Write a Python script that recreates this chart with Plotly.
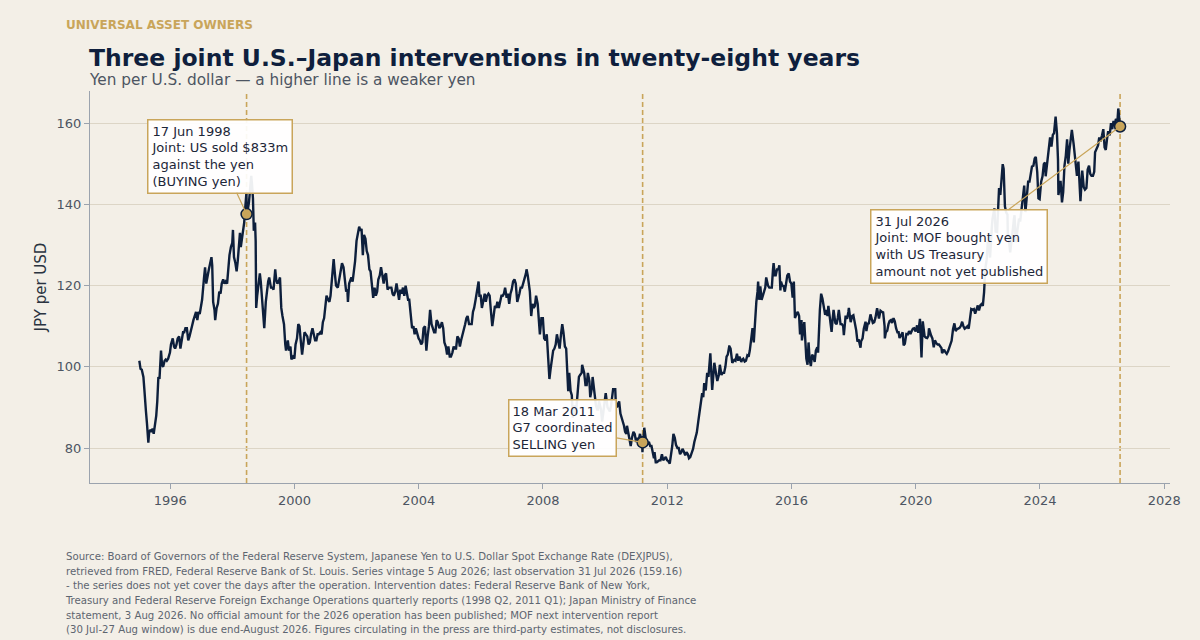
import plotly.graph_objects as go

# ---------------- data ----------------
y1995 = [("01-03",101.5),("01-17",99.5),("02-01",99.3),("02-20",97.5),("03-03",94.5),("03-10",91.0),("03-22",89.0),("04-03",86.0),("04-19",81.3),("04-28",83.8),("05-10",84.5),("05-26",84.0),("06-08",84.8),("06-21",83.5),("07-06",86.0),("07-21",88.0),("08-02",91.5),("08-15",97.5),("08-28",97.0),("09-08",101.0),("09-15",104.0),("09-27",100.5),("10-10",100.0),("10-27",101.5),("11-09",101.8),("11-22",101.5),("12-08",102.0),("12-29",103.5)]
y1996 = [("01-10",105.5),("01-31",107.0),("02-15",105.0),("02-28",104.5),("03-15",105.5),("03-29",107.0),("04-15",107.5),("04-30",104.5),("05-15",106.5),("05-31",108.5),("06-14",108.5),("06-28",109.5),("07-15",109.5),("07-31",106.5),("08-15",107.5),("08-30",108.5),("09-13",110.0),("09-30",111.5),("10-15",112.5),("10-31",113.5),("11-15",111.5),("11-29",113.5),("12-13",113.0),("12-31",115.5)]
y1997 = [("01-10",116.5),("01-31",121.5),("02-14",124.5),("02-28",120.5),("03-14",122.5),("03-31",124.0),("04-15",125.5),("04-30",127.0),("05-09",125.0),("05-20",116.0),("06-05",114.0),("06-13",111.5),("06-30",114.5),("07-15",115.5),("07-31",118.5),("08-15",118.0),("08-29",120.5),("09-15",121.5),("09-30",120.5),("10-15",121.0),("10-31",120.5),("11-14",125.5),("11-28",127.5),("12-15",129.5),("12-31",130.5)]
y1998 = [("01-08",133.7),("01-20",127.0),("02-06",125.5),("02-20",123.5),("03-05",126.0),("03-20",129.0),("03-31",133.0),("04-10",129.5),("04-24",131.5),("05-08",133.0),("05-20",135.5),("06-01",139.0),("06-12",141.0),("06-16",143.0),("06-17",137.6),("06-30",138.5),("07-15",140.5),("07-31",143.5),("08-11",147.0),("08-20",145.0),("08-31",141.5),("09-10",133.5),("09-25",135.5),("10-02",131.0),("10-08",114.5),("10-20",117.5),("11-05",120.5),("11-20",123.0),("12-01",121.0),("12-15",116.5),("12-31",113.5)]
y1999 = [("01-11",109.5),("01-29",116.0),("02-15",119.5),("02-26",121.0),("03-10",122.0),("03-31",119.5),("04-15",119.5),("04-30",119.0),("05-20",124.0),("05-31",121.5),("06-15",120.5),("06-30",121.0),("07-15",122.0),("07-30",114.5),("08-13",112.5),("08-31",110.5),("09-15",105.5),("09-24",104.0),("10-15",106.5),("10-29",104.0),("11-15",105.0),("11-26",101.8),("12-15",102.5),("12-31",102.0)]
y2000 = [("01-14",105.5),("01-31",107.0),("02-15",110.5),("02-29",110.0),("03-15",106.5),("03-31",103.0),("04-14",105.5),("04-28",108.5),("05-15",108.0),("05-31",107.5),("06-15",105.5),("06-30",106.0),("07-14",108.0),("07-31",109.5),("08-15",108.0),("08-31",106.5),("09-15",106.5),("09-29",108.0),("10-13",108.0),("10-31",108.5),("11-15",108.0),("11-30",111.0),("12-15",112.0),("12-29",114.5)]
y2001 = [("01-12",117.5),("01-31",116.5),("02-15",116.0),("02-28",117.5),("03-15",122.0),("03-30",126.0),("04-06",126.5),("04-20",123.0),("05-04",120.0),("05-25",119.5),("06-08",121.5),("06-29",124.5),("07-13",125.5),("07-31",124.5),("08-15",120.5),("08-31",118.5),("09-14",119.0),("09-21",116.0),("10-05",120.5),("10-31",122.0),("11-15",121.0),("11-30",123.5),("12-14",126.0),("12-31",131.0)]
y2002 = [("01-15",132.5),("01-31",134.5),("02-15",133.5),("02-28",134.0),("03-15",127.5),("03-29",132.5),("04-15",131.5),("04-30",128.5),("05-15",127.5),("05-31",124.0),("06-14",123.5),("06-28",119.5),("07-15",117.0),("07-31",119.5),("08-15",117.5),("08-30",118.5),("09-13",121.5),("09-30",122.5),("10-15",124.5),("10-31",122.5),("11-15",120.5),("11-29",122.5),("12-13",123.0),("12-31",119.0)]
y2003 = [("01-15",119.5),("01-31",119.5),("02-14",119.5),("02-28",118.0),("03-14",117.5),("03-31",118.5),("04-15",120.5),("04-30",118.5),("05-15",116.5),("05-30",119.0),("06-13",118.0),("06-30",119.5),("07-15",117.5),("07-31",120.0),("08-15",118.5),("08-29",116.5),("09-12",116.5),("09-30",111.5),("10-15",109.5),("10-31",110.0),("11-14",108.0),("11-28",109.5),("12-15",108.0),("12-31",107.0)]
y2004 = [("01-15",106.5),("01-30",105.5),("02-13",106.0),("02-27",109.5),("03-15",110.0),("03-31",104.0),("04-15",107.5),("04-30",110.0),("05-14",114.0),("05-31",110.5),("06-15",109.5),("06-30",108.5),("07-15",108.5),("07-30",111.5),("08-13",111.0),("08-31",109.5),("09-15",110.0),("09-30",111.0),("10-15",109.5),("10-29",106.0),("11-15",105.0),("11-30",103.0),("12-15",105.0),("12-31",102.5)]
y2005 = [("01-14",102.5),("01-31",103.5),("02-15",105.0),("02-28",104.5),("03-15",104.5),("03-31",107.5),("04-15",107.0),("04-29",105.0),("05-13",106.5),("05-31",108.0),("06-15",108.5),("06-30",110.5),("07-15",112.0),("07-29",112.5),("08-15",110.5),("08-31",110.5),("09-15",110.5),("09-30",113.5),("10-14",114.5),("10-31",116.5),("11-15",118.5),("11-30",119.5),("12-05",121.0),("12-15",117.5),("12-30",117.5)]
y2006 = [("01-13",114.5),("01-31",117.0),("02-15",118.0),("02-28",116.0),("03-15",117.5),("03-31",118.0),("04-14",117.5),("04-28",114.0),("05-15",110.0),("05-31",112.5),("06-15",115.0),("06-30",114.5),("07-14",116.0),("07-31",114.5),("08-15",116.0),("08-31",117.5),("09-15",117.5),("09-29",118.0),("10-13",119.5),("10-31",117.0),("11-15",118.0),("11-30",115.5),("12-15",118.0),("12-29",119.0)]
y2007 = [("01-15",121.0),("01-31",121.5),("02-15",120.5),("02-27",117.5),("03-05",116.0),("03-30",118.0),("04-13",119.5),("04-30",119.5),("05-15",120.5),("05-31",121.5),("06-15",123.0),("06-22",124.0),("07-06",122.5),("07-31",118.5),("08-16",112.5),("08-31",115.5),("09-14",114.5),("09-28",115.0),("10-12",117.5),("10-31",115.5),("11-15",111.0),("11-26",108.0),("12-14",112.0),("12-31",112.0)]
y2008 = [("01-15",107.0),("01-31",106.5),("02-15",108.0),("02-29",104.0),("03-17",97.0),("03-31",99.5),("04-15",101.5),("04-30",104.0),("05-15",104.5),("05-30",105.5),("06-13",108.0),("06-30",105.5),("07-15",104.5),("07-31",108.0),("08-15",110.5),("08-29",108.5),("09-15",105.0),("09-30",104.5),("10-10",99.5),("10-24",94.0),("11-05",98.5),("11-21",94.0),("12-05",93.0),("12-17",87.5),("12-31",90.5)]
y2009 = [("01-15",89.5),("01-21",88.0),("02-06",91.5),("02-27",97.5),("03-13",98.0),("03-31",98.5),("04-06",100.5),("04-30",98.5),("05-15",95.5),("05-29",95.5),("06-12",98.5),("06-30",96.5),("07-10",92.5),("07-31",95.0),("08-07",97.5),("08-31",93.0),("09-15",90.5),("09-30",89.5),("10-09",89.5),("10-21",91.5),("11-13",89.5),("11-27",86.5),("12-15",89.5),("12-31",93.0)]
y2010 = [("01-08",93.5),("01-29",90.0),("02-12",89.5),("02-26",89.0),("03-12",90.5),("03-31",93.5),("04-05",94.5),("04-30",94.5),("05-06",91.5),("05-20",90.0),("06-15",91.5),("06-30",88.5),("07-15",87.5),("07-30",86.5),("08-11",85.5),("08-24",84.0),("09-08",83.5),("09-15",85.5),("09-30",83.5),("10-14",81.5),("10-29",80.5),("11-12",82.5),("11-30",84.0),("12-15",83.5),("12-31",81.5)]
y2011 = [("01-14",82.5),("01-31",82.0),("02-15",83.5),("02-28",82.0),("03-10",83.0),("03-16",79.0),("03-18",81.4),("03-31",83.0),("04-06",85.0),("04-29",81.5),("05-13",81.0),("05-31",81.5),("06-15",80.5),("06-30",80.5),("07-15",79.0),("07-29",77.5),("08-05",79.0),("08-19",76.5),("08-31",76.5),("09-15",76.8),("09-30",77.0),("10-14",77.0),("10-31",78.5),("11-15",77.0),("11-30",77.5),("12-15",77.8),("12-30",77.0)]
y2012 = [("01-13",76.8),("01-31",76.2),("02-15",78.0),("02-29",80.5),("03-14",83.5),("03-30",82.5),("04-13",80.8),("04-30",80.0),("05-15",80.0),("05-31",78.5),("06-15",79.0),("06-29",79.8),("07-13",79.2),("07-31",78.2),("08-15",79.0),("08-31",78.5),("09-13",77.5),("09-28",77.8),("10-15",78.8),("10-31",79.8),("11-15",81.5),("11-30",82.5),("12-14",83.8),("12-31",86.5)]
y2013 = [("01-15",88.5),("01-31",91.5),("02-15",93.5),("02-28",92.5),("03-11",96.0),("03-29",94.2),("04-05",97.5),("04-15",98.5),("04-30",97.5),("05-10",101.5),("05-22",103.3),("06-13",94.3),("06-28",99.0),("07-08",101.0),("07-31",98.0),("08-12",96.5),("08-30",98.0),("09-11",100.5),("09-30",98.0),("10-15",98.5),("10-31",98.5),("11-15",100.0),("11-29",102.5),("12-13",103.0),("12-30",105.0)]
y2014 = [("01-02",105.0),("01-15",104.5),("02-04",101.0),("02-28",101.7),("03-14",101.5),("03-31",103.2),("04-15",101.5),("04-30",102.5),("05-21",101.2),("05-30",101.7),("06-13",102.0),("06-30",101.3),("07-15",101.5),("07-31",102.8),("08-15",102.5),("08-29",104.0),("09-15",107.0),("09-30",109.5),("10-15",106.0),("10-31",112.0),("11-14",116.0),("11-28",118.5),("12-05",121.0),("12-16",116.5),("12-31",119.8)]
y2015 = [("01-15",116.5),("01-30",117.5),("02-13",118.5),("02-27",119.5),("03-10",122.0),("03-31",120.0),("04-15",119.5),("04-30",119.5),("05-15",119.5),("05-29",124.0),("06-05",125.5),("06-19",122.5),("06-30",122.5),("07-15",124.0),("07-31",124.0),("08-12",125.0),("08-24",118.8),("08-31",121.0),("09-15",120.0),("09-30",119.9),("10-15",118.5),("10-30",120.5),("11-13",122.5),("11-30",123.0),("12-15",121.0),("12-31",120.5)]
y2016 = [("01-15",117.0),("01-29",121.0),("02-11",112.0),("02-29",113.0),("03-15",113.5),("03-31",112.5),("04-11",108.0),("04-28",111.5),("05-03",106.5),("05-31",111.0),("06-15",106.0),("06-24",102.0),("07-08",100.5),("07-20",106.0),("08-01",102.0),("08-16",100.2),("08-31",103.0),("09-15",102.5),("09-30",101.2),("10-14",104.0),("10-31",104.8),("11-09",103.5),("11-30",114.0),("12-15",118.0),("12-30",116.8)]
y2017 = [("01-13",114.5),("01-31",112.8),("02-15",114.0),("02-28",112.5),("03-10",115.0),("03-31",111.5),("04-17",108.6),("04-28",111.5),("05-10",114.0),("05-31",110.8),("06-15",110.5),("06-30",112.2),("07-11",114.0),("07-31",110.5),("08-15",110.5),("08-31",110.0),("09-08",107.8),("09-29",112.6),("10-16",111.8),("10-31",113.5),("11-06",114.5),("11-27",111.0),("12-15",112.5),("12-29",112.7)]
y2018 = [("01-15",110.8),("01-31",109.0),("02-15",106.2),("02-28",106.8),("03-23",104.7),("03-30",106.3),("04-16",107.0),("04-30",109.3),("05-21",111.1),("05-31",108.8),("06-15",110.6),("06-29",110.7),("07-18",112.9),("07-31",111.8),("08-15",110.8),("08-31",111.0),("09-14",112.0),("09-28",113.7),("10-04",114.4),("10-26",111.9),("11-13",113.8),("11-30",113.5),("12-14",113.4),("12-31",110.0)]
y2019 = [("01-03",107.0),("01-15",108.5),("01-31",108.9),("02-15",110.5),("02-28",111.3),("03-15",111.5),("03-29",110.8),("04-15",112.0),("04-30",111.2),("05-15",109.5),("05-31",108.5),("06-14",108.5),("06-25",107.1),("07-15",107.8),("07-31",108.5),("08-12",105.3),("08-26",105.7),("09-13",108.1),("09-30",108.0),("10-15",108.8),("10-31",108.1),("11-15",108.8),("11-29",109.4),("12-13",109.5),("12-31",108.7)]
y2020 = [("01-17",110.2),("01-31",108.4),("02-20",111.8),("02-28",108.4),("03-09",102.3),("03-24",111.2),("04-15",107.5),("04-30",107.2),("05-15",107.1),("05-29",107.6),("06-05",109.5),("06-30",107.7),("07-15",107.0),("07-31",104.8),("08-14",106.5),("08-31",105.8),("09-15",105.5),("09-30",105.5),("10-15",105.1),("10-30",104.6),("11-06",103.4),("11-30",104.2),("12-15",103.6),("12-31",103.2)]
y2021 = [("01-15",103.8),("01-29",104.6),("02-15",105.4),("02-26",106.4),("03-15",109.3),("03-31",110.7),("04-15",108.8),("04-30",109.3),("05-14",109.4),("05-31",109.6),("06-15",110.1),("06-30",111.1),("07-15",110.0),("07-30",109.4),("08-13",109.6),("08-31",110.0),("09-15",109.4),("09-30",111.6),("10-15",114.2),("10-29",114.0),("11-15",114.2),("11-30",113.1),("12-15",114.0),("12-31",115.1)]
y2022 = [("01-14",113.9),("01-31",115.2),("02-15",115.5),("02-28",115.0),("03-15",118.4),("03-28",123.9),("04-15",126.5),("04-28",130.8),("05-09",130.5),("05-24",126.9),("06-15",134.6),("06-22",136.4),("07-14",139.0),("07-29",133.3),("08-15",133.2),("08-31",138.7),("09-07",144.0),("09-22",142.3),("09-30",144.7),("10-20",149.9),("10-31",148.7),("11-15",139.5),("11-30",138.0),("12-15",137.5),("12-20",131.5),("12-30",131.8)]
y2023 = [("01-16",128.2),("01-31",130.3),("02-15",133.6),("02-28",136.2),("03-08",137.3),("03-23",130.7),("04-14",133.8),("04-28",136.2),("05-15",136.1),("05-31",139.5),("06-15",141.4),("06-30",144.6),("07-14",138.1),("07-31",142.5),("08-15",145.6),("08-31",145.6),("09-15",147.6),("09-29",149.3),("10-16",149.5),("10-31",151.3),("11-13",151.7),("11-30",147.9),("12-14",141.5),("12-28",141.3)]
y2024 = [("01-15",145.6),("01-31",146.9),("02-15",149.9),("02-29",150.3),("03-08",146.9),("03-29",151.3),("04-15",154.2),("04-29",156.5),("05-15",154.2),("05-31",157.1),("06-14",157.5),("06-28",160.8),("07-03",161.6),("07-19",157.4),("07-31",151.0),("08-05",142.3),("08-20",145.4),("08-30",145.8),("09-16",140.5),("09-30",143.0),("10-15",149.5),("10-31",152.0),("11-15",156.0),("11-29",150.0),("12-13",153.5),("12-31",157.3)]
y2025 = [("01-10",158.3),("01-31",154.8),("02-14",152.3),("02-28",150.5),("03-11",147.0),("03-28",150.5),("04-11",143.5),("04-21",140.8),("05-12",148.3),("05-30",144.2),("06-13",143.6),("06-30",144.0),("07-15",148.6),("07-31",149.5),("08-14",147.5),("08-29",147.0),("09-15",147.0),("09-30",148.0),("10-10",152.8),("10-31",154.0),("11-14",154.5),("11-28",156.5),("12-12",155.5),("12-31",157.0)]
y2026 = [("01-15",158.5),("01-30",154.0),("02-13",153.4),("02-27",156.0),("03-13",158.0),("03-31",157.0),("04-15",160.0),("04-30",158.5),("05-15",160.5),("05-29",159.5),("06-12",161.0),("06-30",160.5),("07-10",163.6),("07-20",161.5),("07-31",159.16)]

year_blocks = [y1995, y1996, y1997, y1998, y1999, y2000, y2001, y2002, y2003, y2004,
               y2005, y2006, y2007, y2008, y2009, y2010, y2011, y2012, y2013, y2014,
               y2015, y2016, y2017, y2018, y2019, y2020, y2021, y2022, y2023, y2024,
               y2025, y2026]

event_dates = ["1998-06-17", "2011-03-18", "2026-07-31"]
event_labels = [
    "17 Jun 1998<br>Joint: US sold $833m<br>against the yen<br>(BUYING yen)",
    "18 Mar 2011<br>G7 coordinated<br>SELLING yen",
    "31 Jul 2026<br>Joint: MOF bought yen<br>with US Treasury<br>amount not yet published",
]
y_ticks = [80, 100, 120, 140, 160]

footer_lines = [
    "Source: Board of Governors of the Federal Reserve System, Japanese Yen to U.S. Dollar Spot Exchange Rate (DEXJPUS),",
    "retrieved from FRED, Federal Reserve Bank of St. Louis. Series vintage 5 Aug 2026; last observation 31 Jul 2026 (159.16)",
    "- the series does not yet cover the days after the operation. Intervention dates: Federal Reserve Bank of New York,",
    "Treasury and Federal Reserve Foreign Exchange Operations quarterly reports (1998 Q2, 2011 Q1); Japan Ministry of Finance",
    "statement, 3 Aug 2026. No official amount for the 2026 operation has been published; MOF next intervention report",
    "(30 Jul-27 Aug window) is due end-August 2026. Figures circulating in the press are third-party estimates, not disclosures.",
]

# ---------------- build ----------------
dates, jpy = [], []
for i, block in enumerate(year_blocks):
    yr = 1995 + i
    for md, v in block:
        dates.append(f"{yr}-{md}")
        jpy.append(v)
lookup = dict(zip(dates, jpy))
event_vals = [lookup[d] for d in event_dates]

BG = "#f3efe7"
NAVY = "#0d1f3c"
GOLD = "#c9a55a"
GREY = "#4d5562"
FONT = "DejaVu Sans"

fig = go.Figure()
fig.add_trace(go.Scatter(x=dates, y=jpy, mode="lines",
                         line=dict(color=NAVY, width=2.4), hoverinfo="skip",
                         showlegend=False))
fig.add_trace(go.Scatter(x=event_dates, y=event_vals, mode="markers",
                         marker=dict(color=GOLD, size=11, line=dict(color=NAVY, width=1.5)),
                         hoverinfo="skip", showlegend=False))

for d in event_dates:
    fig.add_shape(type="line", xref="x", yref="paper", x0=d, x1=d, y0=0, y1=1,
                  line=dict(color=GOLD, width=1.6, dash="5px,3px"), layer="below")

offsets = [(-27, -58), (-80, -14), (-161, 120)]
for d, v, t, (ax, ay) in zip(event_dates, event_vals, event_labels, offsets):
    fig.add_annotation(x=d, y=v, xref="x", yref="y", text=t, showarrow=True,
                       arrowhead=0, arrowwidth=1.2, arrowcolor=GOLD, ax=ax, ay=ay,
                       align="left", bgcolor="rgba(255,255,255,0.93)",
                       bordercolor=GOLD, borderwidth=1.5, borderpad=3,
                       font=dict(family=FONT, size=13, color="#1c2638"))

# header
fig.add_annotation(xref="paper", yref="paper", x=-0.0242, y=1.168, xanchor="left",
                   yanchor="middle", text="<b>UNIVERSAL ASSET OWNERS</b>", showarrow=False,
                   font=dict(family=FONT, size=12, color=GOLD))
fig.add_annotation(xref="paper", yref="paper", x=-0.0028, y=1.084, xanchor="left",
                   yanchor="middle",
                   text="<b>Three joint U.S.–Japan interventions in twenty-eight years</b>",
                   showarrow=False, font=dict(family=FONT, size=23.5, color="#0f1f3d"))
fig.add_annotation(xref="paper", yref="paper", x=-0.0028, y=1.027, xanchor="left",
                   yanchor="middle", text="Yen per U.S. dollar — a higher line is a weaker yen",
                   showarrow=False, font=dict(family=FONT, size=15.3, color=GREY))
fig.add_annotation(xref="paper", yref="paper", x=-0.0250, y=-0.166, xanchor="left",
                   yanchor="top", align="left", text="<br>".join(footer_lines),
                   showarrow=False,
                   font=dict(family="DejaVu Sans Condensed, DejaVu Sans", size=11.3, color="#5d6570"))

fig.update_layout(
    width=1200, height=640,
    paper_bgcolor=BG, plot_bgcolor=BG,
    margin=dict(l=90, r=30, t=91, b=157),
    font=dict(family=FONT, color=GREY),
    showlegend=False,
    hovermode=False,
)
fig.update_xaxes(type="date", range=["1993-06-02", "2028-03-09"],
                 tick0="1996-01-01", dtick="M48", tickformat="%Y",
                 showgrid=False, showline=True, linecolor="#9ba3ae", linewidth=1,
                 ticks="outside", ticklen=5, tickcolor="#9ba3ae",
                 tickfont=dict(family=FONT, size=13, color=GREY), zeroline=False)
fig.update_yaxes(range=[71.4, 167.9], tickvals=y_ticks,
                 showgrid=True, gridcolor="#dcd5c6", gridwidth=1,
                 showline=True, linecolor="#9ba3ae", linewidth=1,
                 ticks="outside", ticklen=5, tickcolor="#9ba3ae",
                 tickfont=dict(family=FONT, size=13, color=GREY), zeroline=False,
                 title=dict(text="JPY per USD", standoff=6,
                            font=dict(family=FONT, size=15, color="#2a3340")))

fig.write_html("out.html", config={"displayModeBar": False},
               post_script="document.body.style.margin='0';document.body.style.overflow='hidden';document.body.style.background='" + BG + "';")
